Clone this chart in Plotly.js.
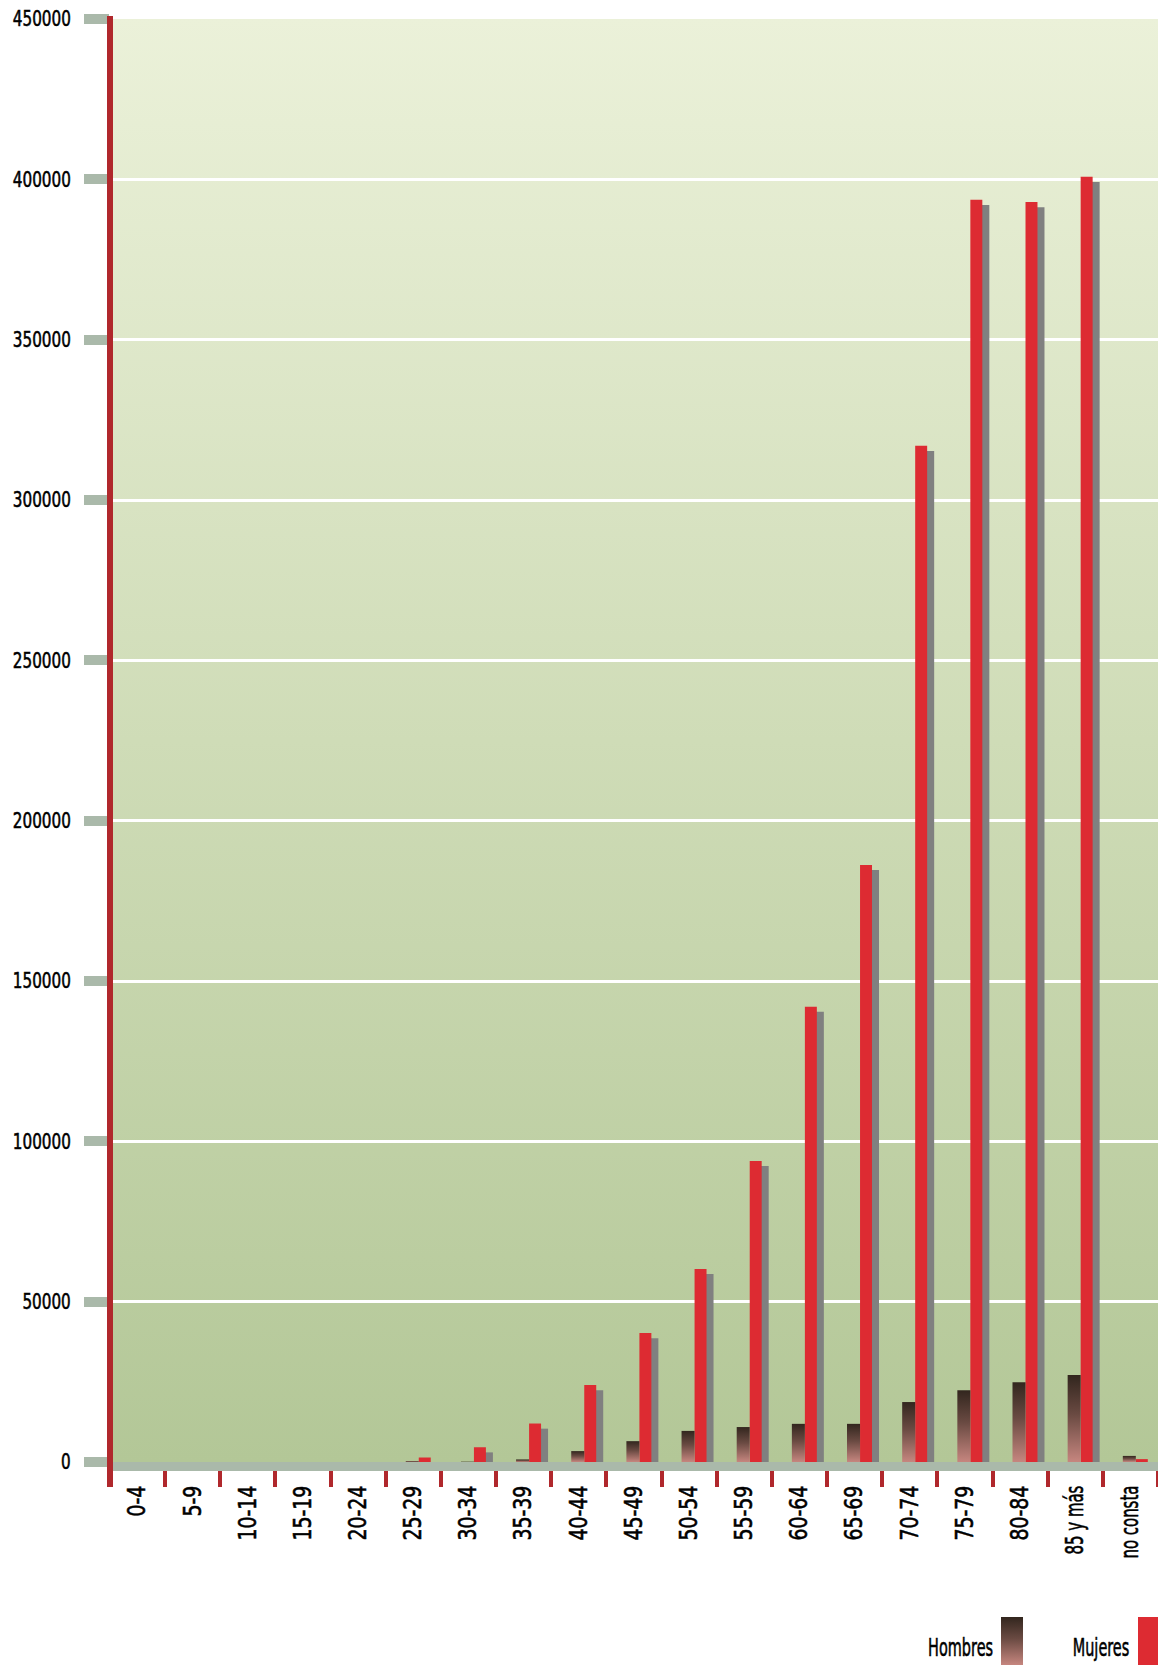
<!DOCTYPE html>
<html>
<head>
<meta charset="utf-8">
<script src="https://cdn.plot.ly/plotly-3.0.1.min.js"></script>
<style>
  html, body { margin: 0; padding: 0; background: #ffffff; }
  #chart { width: 1158px; height: 1665px; }
</style>
</head>
<body>
<div id="chart"></div>
<script>
// ---- Data ----
const categories = ['0-4', '5-9', '10-14', '15-19', '20-24', '25-29', '30-34', '35-39', '40-44',
  '45-49', '50-54', '55-59', '60-64', '65-69', '70-74', '75-79', '80-84', '85 y más', 'no consta'];
const hombres = [0, 0, 0, 0, 0, 300, 100, 800, 3400, 6500, 9700, 10900, 11900, 11900,
  18700, 22400, 24900, 27100, 1900];
const mujeres = [0, 0, 0, 0, 0, 1400, 4600, 12000, 24000, 40200, 60200, 93900, 142000, 186200,
  316900, 393600, 392900, 400800, 900];
const yTickValues = [0, 50000, 100000, 150000, 200000, 250000, 300000, 350000, 400000, 450000];
const seriesNames = ['Hombres', 'Mujeres'];

// ---- Styling ----
const FONT = "'DejaVu Sans Condensed', 'DejaVu Sans', sans-serif";
const RED = '#dd2b32';
const AXIS_RED = '#b0282c';
const GREY_TICK = '#aab9aa';
const SHADOW = '#808080';
const SHADOW_DROP = -1600; // visual drop of the 3D shadow (style, not data)

const traces = [
  { // shadow of the Mujeres bars
    type: 'bar', x: categories, y: mujeres, base: SHADOW_DROP,
    offset: 0.225, width: 0.217,
    marker: { color: SHADOW, line: { width: 0 } },
    hoverinfo: 'skip', showlegend: false
  },
  {
    type: 'bar', name: seriesNames[1], x: categories, y: mujeres,
    offset: 0.098, width: 0.217,
    marker: { color: RED, line: { width: 0 } },
    showlegend: false
  },
  {
    type: 'bar', name: seriesNames[0], x: categories, y: hombres,
    offset: -0.138, width: 0.236,
    marker: { color: '#6b4c44', line: { width: 0 } },
    showlegend: false
  }
];

const W = 1158, H = 1665;
const L = 110, T = 19, B = 203, R = 0;
const PW = W - L - R, PH = H - T - B;
const px = v => (v - L) / PW;          // pixel x -> paper x
const py = v => (H - B - v) / PH;      // pixel y -> paper y

const layout = {
  width: W, height: H,
  margin: { l: L, r: R, t: T, b: B, pad: 0 },
  paper_bgcolor: '#ffffff',
  plot_bgcolor: '#c8d8b0',
  barmode: 'overlay',
  showlegend: false,
  font: { family: FONT, color: '#000000' },
  xaxis: {
    type: 'category',
    range: [-0.5, categories.length - 0.5],
    tickson: 'boundaries',
    ticks: 'outside', ticklen: 16, tickwidth: 4, tickcolor: AXIS_RED,
    ticklabelstandoff: 5,
    showline: true, linecolor: GREY_TICK, linewidth: 9,
    showgrid: false, zeroline: false,
    tickangle: -90,
    tickfont: { family: FONT, size: 24, color: '#000000' }
  },
  yaxis: {
    range: [0, 450000],
    tickmode: 'array', tickvals: yTickValues,
    tickformat: 'd',
    ticks: 'outside', ticklen: 25, tickwidth: 10, tickcolor: GREY_TICK,
    ticklabelstandoff: 9,
    showline: false, zeroline: false,
    showgrid: true, gridcolor: '#ffffff', gridwidth: 3,
    tickfont: { family: FONT, size: 21, color: '#000000' }
  },
  shapes: [
    { // red vertical axis line
      type: 'line', xref: 'paper', yref: 'paper', layer: 'above',
      x0: 0, x1: 0, y0: py(1487), y1: py(16),
      line: { color: AXIS_RED, width: 6 }
    },
    { // legend swatch Hombres
      type: 'rect', xref: 'paper', yref: 'paper', layer: 'above',
      x0: px(1001), x1: px(1023), y0: py(1617), y1: py(1665),
      fillcolor: 'rgb(1,2,3)', line: { width: 0 }
    },
    { // legend swatch Mujeres
      type: 'rect', xref: 'paper', yref: 'paper', layer: 'above',
      x0: px(1138), x1: px(1158), y0: py(1617), y1: py(1665),
      fillcolor: RED, line: { width: 0 }
    }
  ],
  annotations: [
    { text: seriesNames[0], xref: 'paper', yref: 'paper', x: px(960), y: py(1664),
      xanchor: 'center', yanchor: 'bottom', showarrow: false,
      font: { family: FONT, size: 25, color: '#000000' } },
    { text: seriesNames[1], xref: 'paper', yref: 'paper', x: px(1101), y: py(1664),
      xanchor: 'center', yanchor: 'bottom', showarrow: false,
      font: { family: FONT, size: 25, color: '#000000' } }
  ]
};

function addGradient(defs, id, stops) {
  const ns = 'http://www.w3.org/2000/svg';
  const g = document.createElementNS(ns, 'linearGradient');
  g.setAttribute('id', id);
  g.setAttribute('x1', '0'); g.setAttribute('y1', '0');
  g.setAttribute('x2', '0'); g.setAttribute('y2', '1');
  stops.forEach(s => {
    const st = document.createElementNS(ns, 'stop');
    st.setAttribute('offset', s[0]);
    st.setAttribute('stop-color', s[1]);
    g.appendChild(st);
  });
  defs.appendChild(g);
}

// narrow the glyphs to imitate the condensed, medium-weight face of the original:
// the factor is chosen so that a sample label gets the width it has in the original
function condenseGroup(els, sampleText, sampleWidth) {
  let factor = 0.8;
  els.forEach(el => {
    if (el.textContent === sampleText) {
      const len = el.getComputedTextLength();
      if (len > 0) factor = sampleWidth / len;
    }
  });
  els.forEach(el => {
    const len = el.getComputedTextLength();
    if (len > 0) {
      el.setAttribute('textLength', (len * factor).toFixed(2));
      el.setAttribute('lengthAdjust', 'spacingAndGlyphs');
    }
    el.style.stroke = '#000000';
    el.style.strokeWidth = '0.55px';
  });
}

Plotly.newPlot('chart', traces, layout, { staticPlot: true }).then(gd => {
  const svg = gd.querySelector('.main-svg');
  let defs = svg.querySelector('defs');
  if (!defs) { defs = document.createElementNS('http://www.w3.org/2000/svg', 'defs'); svg.insertBefore(defs, svg.firstChild); }
  addGradient(defs, 'hgrad', [[0, '#32261e'], [0.45, '#6a4a42'], [1, '#c6867f']]);
  addGradient(defs, 'bggrad', [[0, '#ebf1d9'], [0.5, '#cfdcb7'], [1, '#b3c797']]);

  // plot background gradient
  let bg = null;
  try { bg = gd._fullLayout._plots.xy.bg.node(); } catch (e) {}
  if (!bg) {
    let best = 0;
    gd.querySelectorAll('rect.bg').forEach(r => {
      const a = (+r.getAttribute('width') || 0) * (+r.getAttribute('height') || 0);
      if (a > best) { best = a; bg = r; }
    });
  }
  if (bg) { bg.style.fill = 'url(#bggrad)'; bg.style.fillOpacity = 1; }

  // Hombres bars gradient
  const barTraces = gd.querySelectorAll('.barlayer .trace');
  if (barTraces[2]) barTraces[2].querySelectorAll('path').forEach(p => { p.style.fill = 'url(#hgrad)'; });

  // legend swatch gradient
  gd.querySelectorAll('.shapelayer path').forEach(p => {
    if ((p.style.fill || '').replace(/\s/g, '') === 'rgb(1,2,3)') { p.style.fill = 'url(#hgrad)'; p.style.fillOpacity = 1; }
  });

  // condensed text
  const yt = Array.from(gd.querySelectorAll('.ytick text'));
  const xt = Array.from(gd.querySelectorAll('.xtick text'));
  condenseGroup(yt, '450000', 58);
  condenseGroup(xt.filter(t => !/[a-z]/i.test(t.textContent)), '20-24', 55);
  condenseGroup(xt.filter(t => /[a-z]/i.test(t.textContent)), 'no consta', 73);
  condenseGroup(Array.from(gd.querySelectorAll('.annotation-text')), 'Hombres', 65);
});
</script>
</body>
</html>
